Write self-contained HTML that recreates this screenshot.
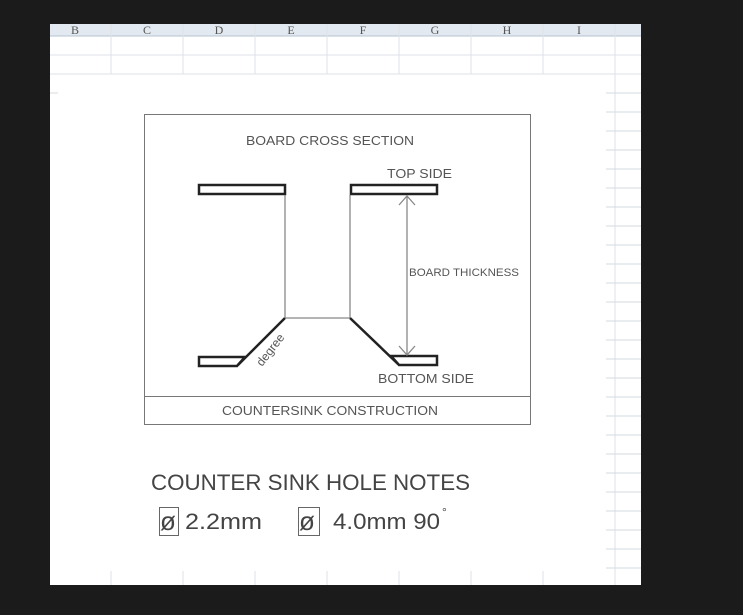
<!DOCTYPE html>
<html><head><style>
body{margin:0;width:743px;height:615px;background:#1b1b1b;overflow:hidden;font-family:"Liberation Sans",sans-serif}
</style></head><body>
<svg width="743" height="615" xmlns="http://www.w3.org/2000/svg" style="position:absolute;left:0;top:0">
<rect x="50" y="24" width="591" height="561" fill="#fff"/>
<rect x="50" y="24" width="591" height="12" fill="#e3e9f0"/>
<line x1="50" y1="36" x2="641" y2="36" stroke="#b6c3d0"/>
<g stroke="#dde2e8">
<line x1="111" y1="24" x2="111" y2="74"/><line x1="183" y1="24" x2="183" y2="74"/><line x1="255" y1="24" x2="255" y2="74"/><line x1="327" y1="24" x2="327" y2="74"/><line x1="399" y1="24" x2="399" y2="74"/><line x1="471" y1="24" x2="471" y2="74"/><line x1="543" y1="24" x2="543" y2="74"/><line x1="615" y1="24" x2="615" y2="585"/>
<line x1="50" y1="55" x2="641" y2="55"/><line x1="50" y1="74" x2="641" y2="74"/>
<line x1="111" y1="571" x2="111" y2="585"/><line x1="183" y1="571" x2="183" y2="585"/><line x1="255" y1="571" x2="255" y2="585"/><line x1="327" y1="571" x2="327" y2="585"/><line x1="399" y1="571" x2="399" y2="585"/><line x1="471" y1="571" x2="471" y2="585"/><line x1="543" y1="571" x2="543" y2="585"/>
</g>
<g stroke="#d6dbe2">
<line x1="606" y1="93" x2="641" y2="93"/><line x1="606" y1="112" x2="641" y2="112"/><line x1="606" y1="131" x2="641" y2="131"/><line x1="606" y1="150" x2="641" y2="150"/><line x1="606" y1="169" x2="641" y2="169"/><line x1="606" y1="188" x2="641" y2="188"/><line x1="606" y1="207" x2="641" y2="207"/><line x1="606" y1="226" x2="641" y2="226"/><line x1="606" y1="245" x2="641" y2="245"/><line x1="606" y1="264" x2="641" y2="264"/><line x1="606" y1="283" x2="641" y2="283"/><line x1="606" y1="302" x2="641" y2="302"/><line x1="606" y1="321" x2="641" y2="321"/><line x1="606" y1="340" x2="641" y2="340"/><line x1="606" y1="359" x2="641" y2="359"/><line x1="606" y1="378" x2="641" y2="378"/><line x1="606" y1="397" x2="641" y2="397"/><line x1="606" y1="416" x2="641" y2="416"/><line x1="606" y1="435" x2="641" y2="435"/><line x1="606" y1="454" x2="641" y2="454"/><line x1="606" y1="473" x2="641" y2="473"/><line x1="606" y1="492" x2="641" y2="492"/><line x1="606" y1="511" x2="641" y2="511"/><line x1="606" y1="530" x2="641" y2="530"/><line x1="606" y1="549" x2="641" y2="549"/><line x1="606" y1="568" x2="641" y2="568"/>
<line x1="50" y1="93" x2="58" y2="93"/>
</g>
<g font-family="Liberation Serif,serif" font-size="12" fill="#555" text-anchor="middle">
<text x="75" y="34">B</text><text x="147" y="34">C</text><text x="219" y="34">D</text><text x="291" y="34">E</text><text x="363" y="34">F</text><text x="435" y="34">G</text><text x="507" y="34">H</text><text x="579" y="34">I</text>
</g>
<rect x="144.5" y="114.5" width="386" height="310" fill="none" stroke="#777"/>
<line x1="144" y1="396.5" x2="531" y2="396.5" stroke="#777"/>
<g fill="none" stroke="#222" stroke-width="2.5">
<rect x="199" y="185" width="86" height="9"/>
<rect x="351" y="185" width="86" height="9"/>
<polygon points="199,357 245,357 237,366 199,366"/>
<polygon points="391,356 437,356 437,365 399,365"/>
<line x1="285" y1="318" x2="238" y2="365"/>
<line x1="350" y1="318" x2="398" y2="364"/>
</g>
<g stroke="#888" stroke-width="1.3" fill="none">
<line x1="285" y1="195" x2="285" y2="318"/><line x1="350" y1="195" x2="350" y2="318"/><line x1="285" y1="318" x2="350" y2="318"/>
<line x1="407" y1="196" x2="407" y2="355"/>
<polyline points="399,205 407,196 415,205"/><polyline points="399,346 407,355 415,346"/>
</g>
<g fill="#555" font-size="13" lengthAdjust="spacingAndGlyphs">
<text x="246" y="145" textLength="168" lengthAdjust="spacingAndGlyphs">BOARD CROSS SECTION</text>
<text x="387" y="178" textLength="65" lengthAdjust="spacingAndGlyphs">TOP SIDE</text>
<text x="409" y="276" font-size="11" textLength="110" lengthAdjust="spacingAndGlyphs">BOARD THICKNESS</text>
<text x="378" y="383" textLength="96" lengthAdjust="spacingAndGlyphs">BOTTOM SIDE</text>
<text x="222" y="415" textLength="216" lengthAdjust="spacingAndGlyphs">COUNTERSINK CONSTRUCTION</text>
<text x="262" y="367" font-size="12" transform="rotate(-52 262 367)">degree</text>
</g>
<g fill="#444" font-size="22">
<text x="151" y="490" textLength="319" lengthAdjust="spacingAndGlyphs">COUNTER SINK HOLE NOTES</text>
<text x="185" y="529" textLength="77" lengthAdjust="spacingAndGlyphs">2.2mm</text>
<text x="333" y="529" textLength="107" lengthAdjust="spacingAndGlyphs">4.0mm 90</text>
<text x="442" y="516" font-size="12">°</text>
<text x="160" y="530" font-size="26">ø</text><text x="299" y="530" font-size="26">ø</text>
</g>
<rect x="159.5" y="507.5" width="19" height="28" fill="none" stroke="#666"/>
<rect x="298.5" y="507.5" width="21" height="28" fill="none" stroke="#666"/>
</svg>
</body></html>
